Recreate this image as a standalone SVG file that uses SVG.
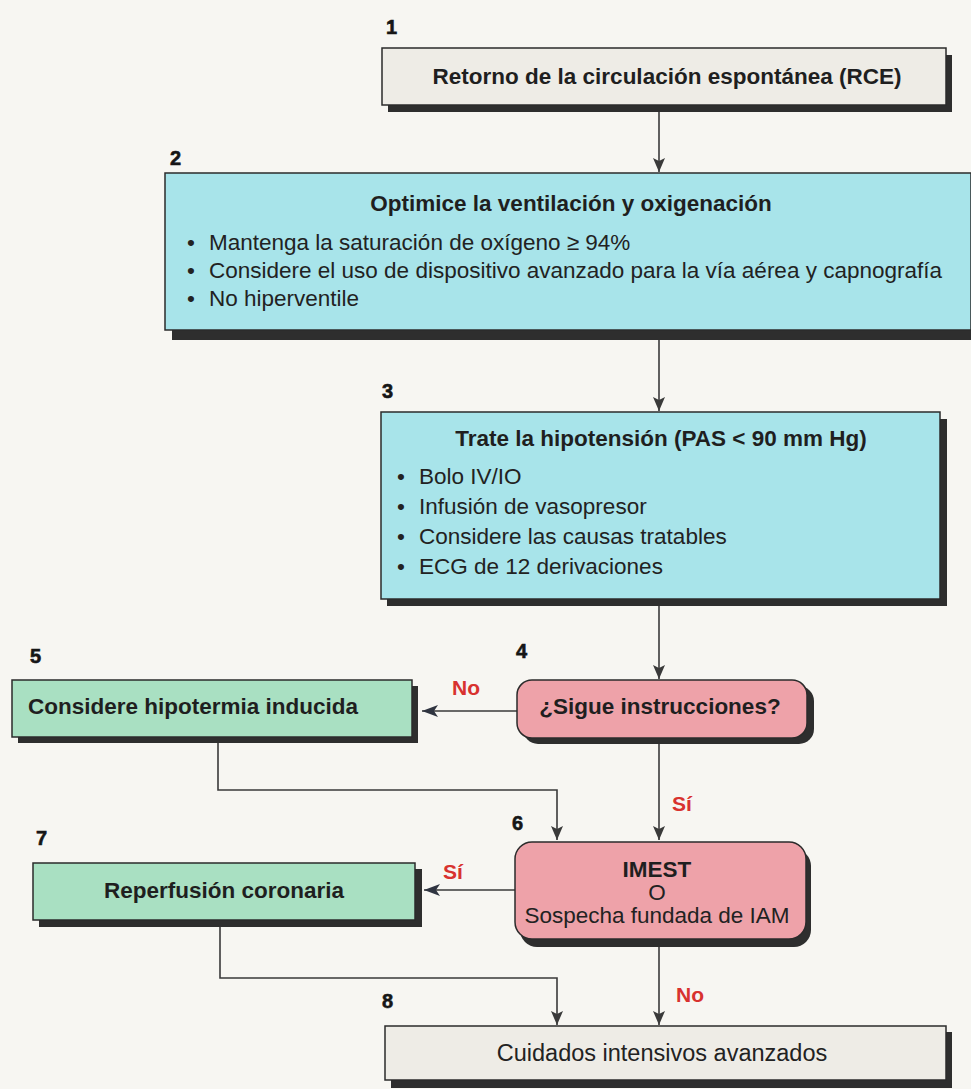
<svg xmlns="http://www.w3.org/2000/svg" width="971" height="1089" viewBox="0 0 971 1089">
  <defs>
    <marker id="arrow" viewBox="0 0 12 14" refX="6" refY="14" markerWidth="12" markerHeight="14" markerUnits="userSpaceOnUse" orient="0">
      <path d="M0,0 L6,3 L12,0 L6,14 Z" fill="#3a3a3a"/>
    </marker>
    <marker id="arrowLeft" viewBox="0 0 16 12" refX="0" refY="6" markerWidth="16" markerHeight="12" markerUnits="userSpaceOnUse" orient="0">
      <path d="M0,6 L16,0 L12,6 L16,12 Z" fill="#2f3440"/>
    </marker>
  </defs>
  <style>
    .bg { fill: #f7f6f2; }
    .shadow { fill: #2e2e2e; }
    .box { stroke: #2b2b2b; stroke-width: 1.5; }
    .grey { fill: #eeece6; }
    .cyan { fill: #a8e4ea; }
    .green { fill: #a9e0c2; }
    .pink { fill: #eea2a9; }
    .num { font-family: "Liberation Sans", Arial, sans-serif; font-weight: bold; font-size: 20px; fill: #161616; stroke: #161616; stroke-width: 0.6; }
    .title { font-family: "Liberation Sans", Arial, sans-serif; font-weight: bold; font-size: 22.5px; fill: #1f1f1f; }
    .body { font-family: "Liberation Sans", Arial, sans-serif; font-size: 22.5px; fill: #222; }
    .label { font-family: "Liberation Sans", Arial, sans-serif; font-weight: bold; font-size: 21px; fill: #d8322f; }
    .line { fill: none; stroke: #3a3a3a; stroke-width: 1.6; }
  </style>

  <rect class="bg" x="0" y="0" width="971" height="1089"/>

  <!-- connectors -->
  <g id="connectors">
    <line class="line" x1="659" y1="112" x2="659" y2="172" marker-end="url(#arrow)"/>
    <line class="line" x1="659" y1="339" x2="659" y2="411" marker-end="url(#arrow)"/>
    <line class="line" x1="659" y1="606" x2="659" y2="679" marker-end="url(#arrow)"/>
    <line class="line" x1="517" y1="711" x2="422" y2="711" marker-end="url(#arrowLeft)"/>
    <polyline class="line" points="218,743 218,790 557,790 557,840" marker-end="url(#arrow)"/>
    <line class="line" x1="659" y1="744" x2="659" y2="840" marker-end="url(#arrow)"/>
    <line class="line" x1="515" y1="890" x2="424" y2="890" stroke="#2c3a55" marker-end="url(#arrowLeft)"/>
    <polyline class="line" points="220,927 220,978 557,978 557,1025" marker-end="url(#arrow)"/>
    <line class="line" x1="659" y1="947" x2="659" y2="1025" marker-end="url(#arrow)"/>
    <text class="label" x="452" y="695">No</text>
    <text class="label" x="672" y="811">Sí</text>
    <text class="label" x="443" y="879">Sí</text>
    <text class="label" x="676" y="1002">No</text>
  </g>

  <!-- 1 -->
  <g id="node1">
    <text class="num" x="386" y="34">1</text>
    <rect class="shadow" x="388" y="55" width="564" height="57"/>
    <rect class="box grey" x="382" y="48" width="564" height="57"/>
    <text class="title" x="667" y="84" text-anchor="middle">Retorno de la circulación espontánea (RCE)</text>
  </g>

  <!-- 2 -->
  <g id="node2">
    <text class="num" x="170" y="165">2</text>
    <rect class="shadow" x="172" y="181" width="806" height="159"/>
    <rect class="box cyan" x="165" y="173" width="806" height="157"/>
    <text class="title" x="571" y="211" text-anchor="middle">Optimice la ventilación y oxigenación</text>
    <text class="body" x="187" y="250">•</text>
    <text class="body" x="209" y="250">Mantenga la saturación de oxígeno ≥ 94%</text>
    <text class="body" x="187" y="278">•</text>
    <text class="body" x="209" y="278" textLength="733" lengthAdjust="spacingAndGlyphs">Considere el uso de dispositivo avanzado para la vía aérea y capnografía</text>
    <text class="body" x="187" y="306">•</text>
    <text class="body" x="209" y="306">No hiperventile</text>
  </g>

  <!-- 3 -->
  <g id="node3">
    <text class="num" x="382" y="398">3</text>
    <rect class="shadow" x="387" y="419" width="560" height="187"/>
    <rect class="box cyan" x="381" y="412" width="559" height="187"/>
    <text class="title" x="661" y="446" text-anchor="middle">Trate la hipotensión (PAS &lt; 90 mm Hg)</text>
    <text class="body" x="397" y="484">•</text>
    <text class="body" x="419" y="484">Bolo IV/IO</text>
    <text class="body" x="397" y="514">•</text>
    <text class="body" x="419" y="514">Infusión de vasopresor</text>
    <text class="body" x="397" y="544">•</text>
    <text class="body" x="419" y="544">Considere las causas tratables</text>
    <text class="body" x="397" y="574">•</text>
    <text class="body" x="419" y="574">ECG de 12 derivaciones</text>
  </g>

  <!-- 4 -->
  <g id="node4">
    <text class="num" x="516" y="658">4</text>
    <rect class="shadow" x="523" y="686" width="291" height="58" rx="15"/>
    <rect class="box pink" x="517" y="680" width="290" height="58" rx="15"/>
    <text class="title" x="660" y="714" text-anchor="middle">¿Sigue instrucciones?</text>
  </g>

  <!-- 5 -->
  <g id="node5">
    <text class="num" x="30" y="663">5</text>
    <rect class="shadow" x="18" y="686" width="400" height="57"/>
    <rect class="box green" x="12" y="680" width="400" height="57"/>
    <text class="title" x="28" y="714">Considere hipotermia inducida</text>
  </g>

  <!-- 6 -->
  <g id="node6">
    <text class="num" x="512" y="830">6</text>
    <rect class="shadow" x="520" y="849" width="291" height="98" rx="17"/>
    <rect class="box pink" x="515" y="842" width="291" height="97" rx="17"/>
    <text class="title" x="657" y="877" text-anchor="middle">IMEST</text>
    <text class="body" x="657" y="900" text-anchor="middle">O</text>
    <text class="body" x="657" y="923" text-anchor="middle">Sospecha fundada de IAM</text>
  </g>

  <!-- 7 -->
  <g id="node7">
    <text class="num" x="36" y="845">7</text>
    <rect class="shadow" x="39" y="869" width="383" height="58"/>
    <rect class="box green" x="33" y="863" width="382" height="57"/>
    <text class="title" x="224" y="898" text-anchor="middle">Reperfusión coronaria</text>
  </g>

  <!-- 8 -->
  <g id="node8">
    <text class="num" x="382" y="1008">8</text>
    <rect class="shadow" x="391" y="1032" width="561" height="56"/>
    <rect class="box grey" x="385" y="1026" width="561" height="54"/>
    <text class="body" x="662" y="1061" text-anchor="middle" style="font-size:23.5px">Cuidados intensivos avanzados</text>
  </g>
</svg>
